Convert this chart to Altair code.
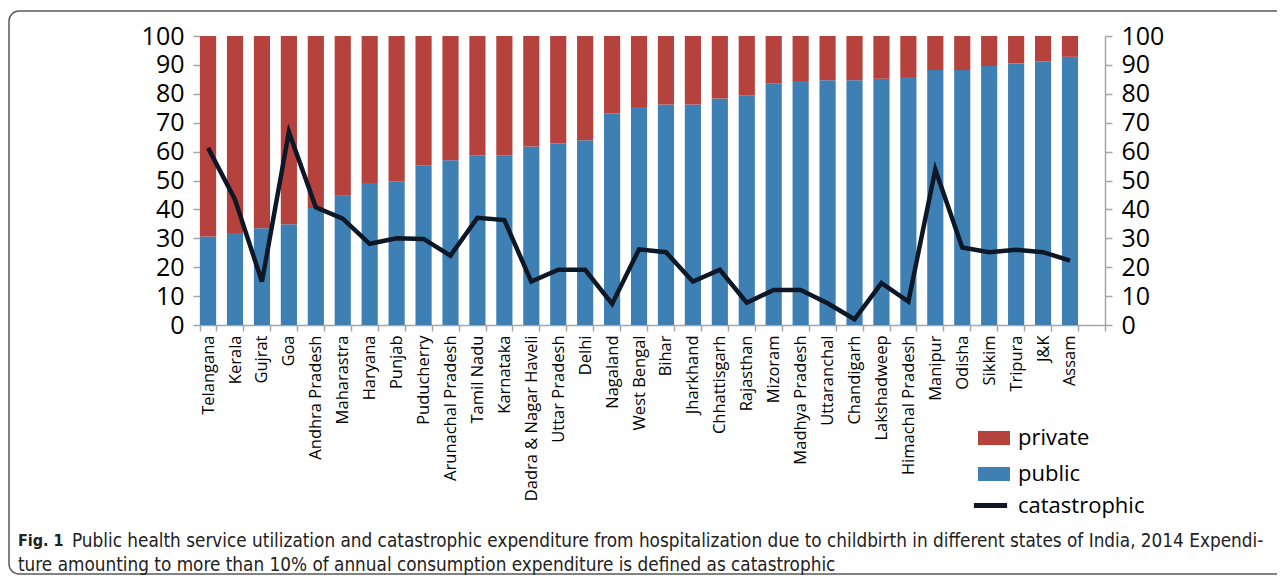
import altair as alt
import pandas as pd

states = ["Telangana", "Kerala", "Gujrat", "Goa", "Andhra Pradesh", "Maharastra",
          "Haryana", "Punjab", "Puducherry", "Arunachal Pradesh", "Tamil Nadu",
          "Karnataka", "Dadra & Nagar Haveli", "Uttar Pradesh", "Delhi", "Nagaland",
          "West Bengal", "Bihar", "Jharkhand", "Chhattisgarh", "Rajasthan", "Mizoram",
          "Madhya Pradesh", "Uttaranchal", "Chandigarh", "Lakshadweep",
          "Himachal Pradesh", "Manipur", "Odisha", "Sikkim", "Tripura", "J&K", "Assam"]

public = [30.6, 31.8, 33.5, 34.9, 40.5, 44.7, 49.1, 49.7, 55.3, 57.0, 58.7,
          58.7, 61.8, 62.8, 63.9, 73.2, 75.4, 76.3, 76.3, 78.4, 79.5, 83.5,
          84.4, 84.7, 84.7, 85.2, 85.8, 88.2, 88.2, 89.6, 90.5, 91.3, 92.8]

private = [69.4, 68.2, 66.5, 65.1, 59.5, 55.3, 50.9, 50.3, 44.7, 43.0, 41.3,
           41.3, 38.2, 37.2, 36.1, 26.8, 24.6, 23.7, 23.7, 21.6, 20.5, 16.5,
           15.6, 15.3, 15.3, 14.8, 14.2, 11.8, 11.8, 10.4, 9.5, 8.7, 7.2]

catastrophic = [61.3, 43.4, 15.0, 66.8, 40.7, 36.8, 28.1, 30.0, 29.8, 24.0, 37.1,
                36.3, 15.0, 19.1, 19.1, 7.3, 26.2, 25.2, 15.0, 19.1, 7.7, 12.1,
                12.1, 7.5, 2.0, 14.5, 8.1, 53.8, 26.8, 25.2, 26.0, 25.2, 22.3]

y_ticks = [0, 10, 20, 30, 40, 50, 60, 70, 80, 90, 100]
series_names = ["private", "public"]
line_name = "catastrophic"

fig_label = "Fig. 1"
caption_1 = ("Public health service utilization and catastrophic expenditure from hospitalization "
             "due to childbirth in different states of India, 2014 Expendi-")
caption_2 = "ture amounting to more than 10% of annual consumption expenditure is defined as catastrophic"

RED = "#B5423C"
BLUE = "#3E80B4"
LINE = "#0d1726"
AXIS_GRAY = "#a6a6a6"
FONT = "Open Sans"
CAP_FONT = "DejaVu Sans Condensed, DejaVu Sans, sans-serif"

rows = []
for s, pu, pr in zip(states, public, private):
    rows.append({"state": s, "type": "public", "value": pu, "ord": 0})
    rows.append({"state": s, "type": "private", "value": pr, "ord": 1})
bars_df = pd.DataFrame(rows)
line_df = pd.DataFrame({"state": states, "value": catastrophic, "series": line_name})

x_domain = states + [" "]
x_scale = alt.Scale(domain=x_domain, paddingInner=0.4, paddingOuter=0)
x_axis = alt.Axis(title=None, labelAngle=270, labelFontSize=16.5, labelFont=FONT,
                  labelColor="black", tickBand="extent", tickSize=6, tickColor=AXIS_GRAY,
                  domainColor=AXIS_GRAY, domainWidth=1.5, tickWidth=1.5, labelPadding=4,
                  labelLimit=300, labelOverlap=False, grid=False)


def y_axis(orient):
    return alt.Axis(orient=orient, title=None, values=y_ticks, labelFontSize=25,
                    labelFont=FONT, labelColor="black", tickSize=7, tickColor=AXIS_GRAY,
                    domainColor=AXIS_GRAY, domainWidth=1.5, tickWidth=1.5,
                    labelPadding=9, grid=False)


bars = alt.Chart(bars_df).mark_bar().encode(
    x=alt.X("state:N", scale=x_scale, axis=x_axis),
    y=alt.Y("value:Q", stack="zero", scale=alt.Scale(domain=[0, 100], nice=False),
            axis=y_axis("left")),
    fill=alt.Fill("type:N", scale=alt.Scale(domain=series_names, range=[RED, BLUE]),
                  legend=alt.Legend(orient="none", legendX=778, legendY=386, title=None,
                                    symbolType="M-1,-0.44H1V0.44H-1Z", symbolSize=1024,
                                    symbolStrokeWidth=0, symbolOpacity=1,
                                    labelFontSize=22, labelFont=FONT, labelColor="black",
                                    labelOffset=8, rowPadding=9, padding=0)),
    order=alt.Order("ord:Q"),
)

line = alt.Chart(line_df).mark_line(strokeWidth=4.5).encode(
    x=alt.X("state:N", scale=x_scale, axis=x_axis),
    y=alt.Y("value:Q", scale=alt.Scale(domain=[0, 100], nice=False), axis=y_axis("right")),
    stroke=alt.Stroke("series:N", scale=alt.Scale(domain=[line_name], range=[LINE]),
                      legend=alt.Legend(orient="none", legendX=771, legendY=450, title=None,
                                        symbolType="stroke", symbolSize=1100,
                                        symbolStrokeWidth=5, labelFontSize=22,
                                        labelFont=FONT, labelColor="black",
                                        labelOffset=8, padding=0)),
)

frame = alt.Chart(pd.DataFrame({"k": [0]})).mark_rect(
    fillOpacity=0, stroke="#5a5a5a", strokeWidth=1.5, cornerRadius=10
).encode(x=alt.value(-191), x2=alt.value(1090), y=alt.value(-25), y2=alt.value(538))

fig_text = alt.Chart(pd.DataFrame({"t": [fig_label]})).mark_text(
    align="left", baseline="middle", fontSize=16, fontWeight="bold", font=CAP_FONT,
    color="#222222"
).encode(x=alt.value(-182), y=alt.value(505), text="t:N")

cap1_text = alt.Chart(pd.DataFrame({"t": [caption_1]})).mark_text(
    align="left", baseline="middle", fontSize=18.8, font=CAP_FONT, color="#222222"
).encode(x=alt.value(-128), y=alt.value(505), text="t:N")

cap2_text = alt.Chart(pd.DataFrame({"t": [caption_2]})).mark_text(
    align="left", baseline="middle", fontSize=18.8, font=CAP_FONT, color="#222222"
).encode(x=alt.value(-182), y=alt.value(529), text="t:N")

chart = alt.layer(bars, line, frame, fig_text, cap1_text, cap2_text).resolve_scale(
    y="independent", fill="independent", stroke="independent"
).properties(
    width=905, height=289,
    autosize=alt.AutoSizeParams(type="none"),
    padding={"left": 192, "top": 28, "right": 172, "bottom": 251},
).configure_view(strokeWidth=0)

chart.save("out.html", embed_options={"renderer": "svg", "actions": False})
